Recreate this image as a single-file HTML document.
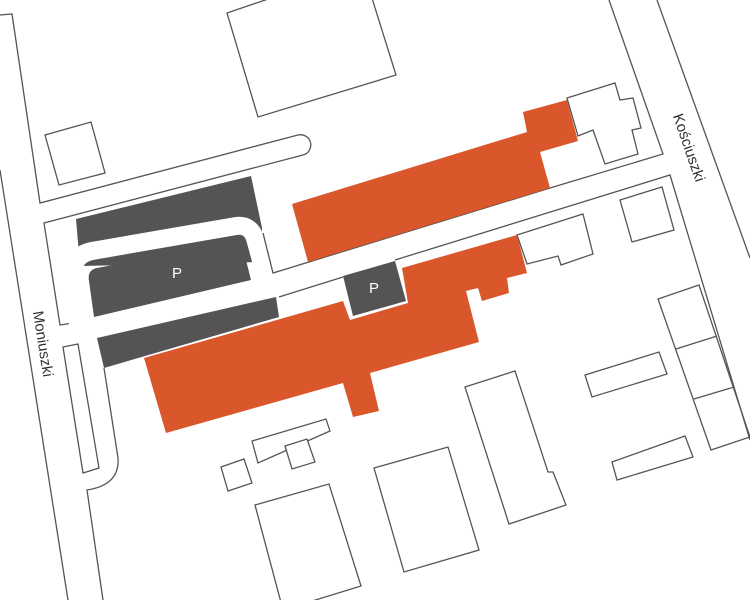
<!DOCTYPE html>
<html><head><meta charset="utf-8"><style>
html,body{margin:0;padding:0;background:#fff;}
svg{display:block;}
text{font-family:"Liberation Sans",sans-serif;}
</style></head><body>
<svg width="750" height="600" viewBox="0 0 750 600" xmlns="http://www.w3.org/2000/svg">
<g fill="none" stroke="#555" stroke-width="1.3" stroke-linejoin="miter">
<polyline points="0,170 68,600"/>
<polyline points="0,15 12,14 40,203 298,135"/>
<path d="M298,135 A10,10 0 0 1 303,155 L44,223 L60,325 L73,323"/>
<polygon points="63,347 78,344 99,468 83,473"/>
<path d="M104,368 L118,458 Q120,485 87,490 L103,600"/>
<polyline points="550,188 663,154 609,0"/>
<polyline points="657,0 750,258"/>
<polyline points="279,297 343,277"/>
<polyline points="395,260 670,175 750,440"/>
<polygon points="227,13 280,-5 371,-5 396,75 258,117"/>
<polygon points="45,135 91,122 105,173 59,185"/>
<polygon points="567,98 615,83 620,100 633,98 641,128 632,130 638,154 605,164 593,130 578,136"/>
<polygon points="620,200 662,187 674,230 632,242"/>
<polygon points="517,235 583,214 593,254 561,265 558,256 527,264"/>
<polyline points="750,437 711,450 658,299 699,285 750,437"/>
<line x1="676" y1="349" x2="717" y2="336"/>
<line x1="694" y1="399" x2="734" y2="387"/>
<polygon points="585,375 659,352 667,374 592,397"/>
<polygon points="612,462 685,436 693,457 617,480"/>
<polygon points="465,387 515,371 548,472 553,472 566,505 509,524"/>
<polygon points="374,468 448,447 479,550 404,572"/>
<polygon points="255,505 329,484 361,586 283,610"/>
<polygon points="221,467 244,459 252,483 228,491"/>
<polygon points="252,441 326,419 330,431 258,463"/>
<polygon points="285,446 307,439 315,462 292,469" fill="#fff"/>
</g>
<polygon points="76,219 251,176 262,228 262,262 80,266" fill="#555355"/>
<path d="M78,325 L74,275 Q72,255 92,251 L236,226 Q252,224 256,242 L262,264" fill="none" stroke="#fff" stroke-width="18"/>
<path d="M89,281 Q87,270 97,268 L229,243 Q241,241 244,252 L251,280 L94,317 Z" fill="#555355"/>
<polygon points="97,338 276,297 279,317 104,368" fill="#555355"/>
<polyline points="263,233 273,273 550,188" fill="none" stroke="#555" stroke-width="1.3"/>
<polygon points="292,204 527,132 523,112 567,100 578,141 540,152 550,188 308,262" fill="#d9572b"/>
<polygon points="144,358 343,301 350,320 408,303 402,268 517,235 527,273 507,278 509,293 482,301 478,288 466,291 479,342 370,373 379,411 353,417 343,383 166,433" fill="#d9572b"/>
<polygon points="343,276 395,261 406,301 353,316" fill="#555355"/>
<text x="177" y="278" font-size="15" fill="#fff" text-anchor="middle">P</text>
<text x="374" y="293" font-size="15" fill="#fff" text-anchor="middle">P</text>
<text transform="translate(42,344) rotate(81)" font-size="15" fill="#333" text-anchor="middle" dominant-baseline="middle">Moniuszki</text>
<text transform="translate(688,148) rotate(71)" font-size="15" fill="#333" text-anchor="middle" dominant-baseline="middle">Kościuszki</text>
</svg>
</body></html>
